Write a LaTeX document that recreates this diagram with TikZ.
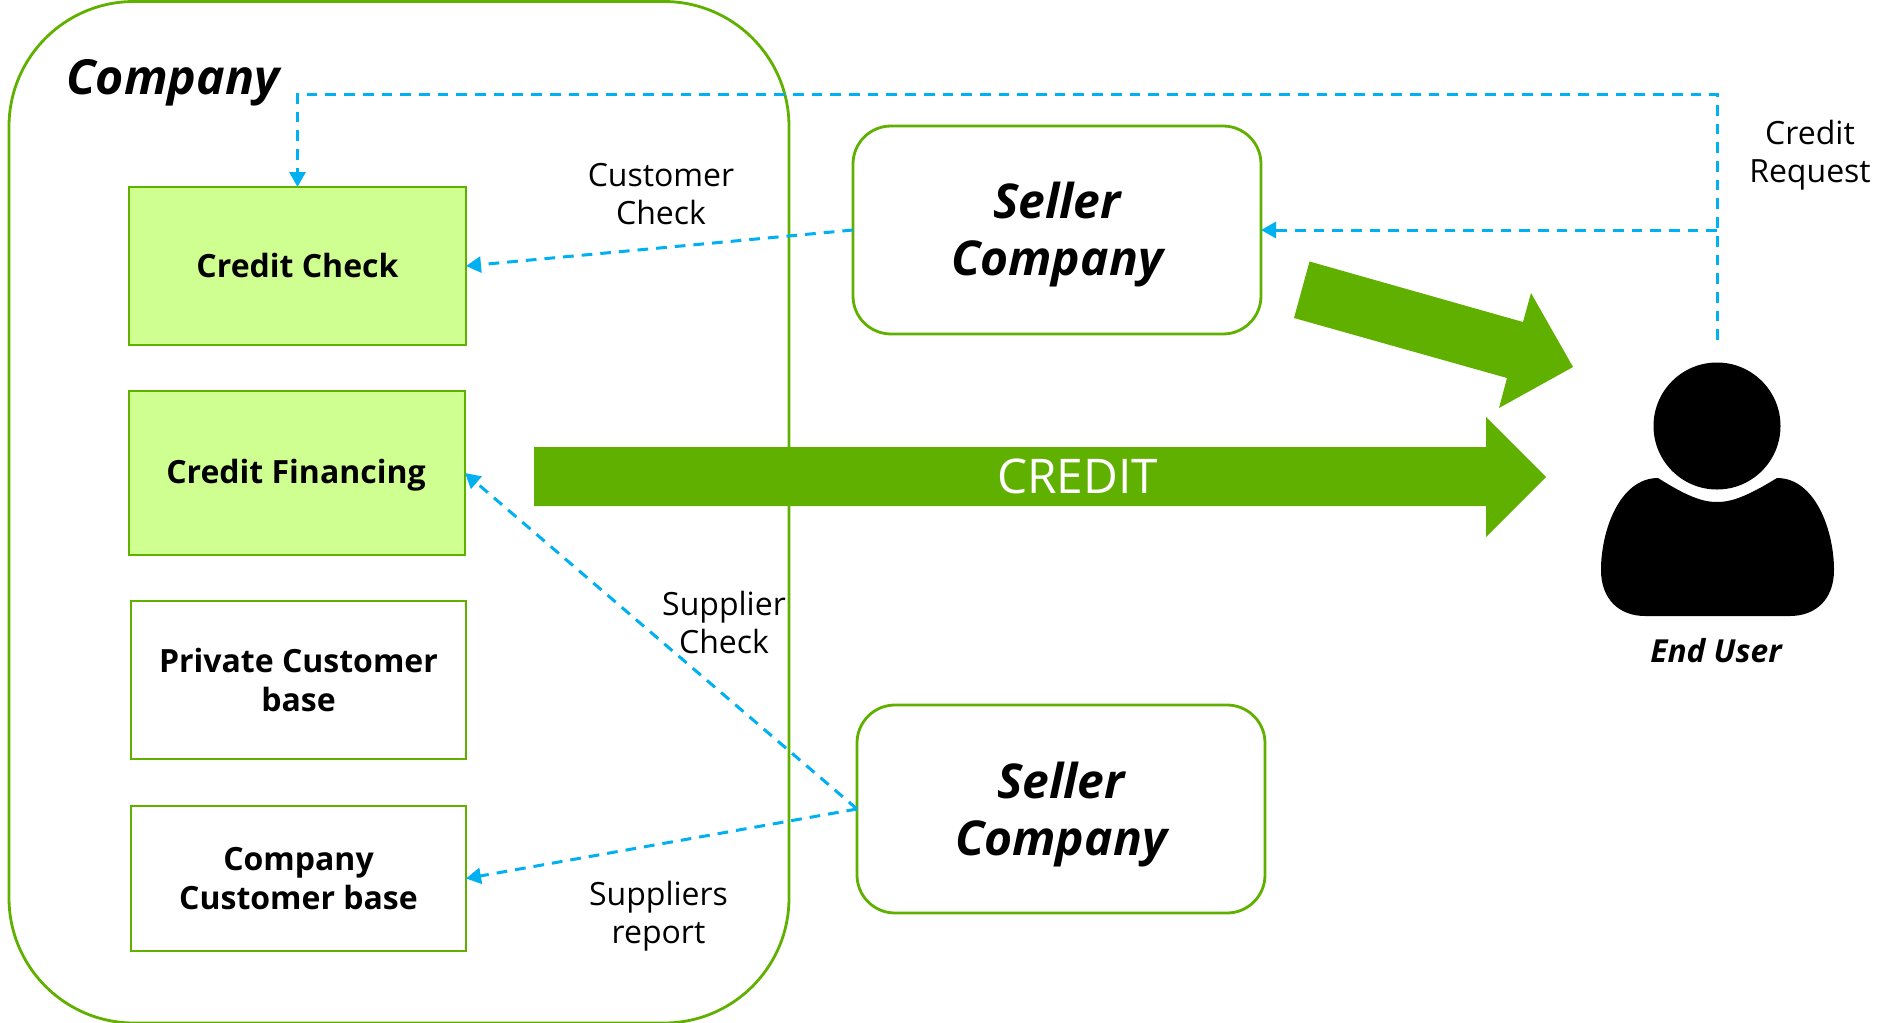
\documentclass[tikz,border=0pt]{standalone}
\usepackage{fontspec}
\setmainfont{Open Sans}
\usetikzlibrary{arrows.meta}
\definecolor{grn}{HTML}{60B000}
\definecolor{lgrn}{HTML}{CEFF90}
\definecolor{cyn}{HTML}{00B0F0}
\tikzset{
  x=1pt,y=-1pt,
  greenline/.style={draw=grn,line width=2.8pt},
  boxnode/.style={greenline,outer sep=0pt,inner sep=0pt,align=center,font=\fontsize{32}{38.5}\selectfont\bfseries},
  litbox/.style={boxnode,fill=lgrn},
  plainbox/.style={boxnode,fill=white},
  boxtext/.style={inner sep=0pt,align=center,font=\fontsize{32}{38.5}\selectfont\bfseries},
  sellerbox/.style={greenline,rounded corners=38pt,fill=white,outer sep=0pt,minimum width=408pt,minimum height=208pt},
  sellertext/.style={inner sep=0pt,align=center,font=\fontsize{48}{57}\selectfont\bfseries\itshape},
  flow/.style={draw=cyn,line width=3pt,dash pattern=on 10.7pt off 8pt,-{Triangle[length=15pt,width=16pt]}},
  lbl/.style={align=center,inner sep=0pt,font=\fontsize{32}{38.5}\selectfont},
  bigarrow/.style={fill=grn,draw=none},
}
\begin{document}
\begin{tikzpicture}
\path[use as bounding box] (0,0) rectangle (1883,1023);
% company container
\node[greenline,rounded corners=125pt,outer sep=0pt,minimum width=780pt,minimum height=1021.5pt] (company) at (399,512.25) {};
\node[inner sep=0pt,font=\fontsize{48.3}{54}\selectfont\bfseries\itshape] (companytitle) at (173,83) {Company};
% inner boxes
\node[litbox,minimum width=337pt,minimum height=158pt] (check) at (297.5,266) {};
\node[boxtext] (checktext) at (297.5,265) {Credit Check};
\node[litbox,minimum width=336pt,minimum height=164pt] (fin) at (297,473) {};
\node[boxtext] (fintext) at (296,475.5) {Credit Financing};
\node[plainbox,minimum width=335pt,minimum height=158pt] (priv) at (298.5,680) {Private Customer\\base};
\node[plainbox,minimum width=335pt,minimum height=145pt] (corp) at (298.5,878.5) {Company\\Customer base};
% sellers
\node[sellerbox] (sellerA) at (1057,230) {};
\node[sellertext] (sellerAtext) at (1057,235) {Seller\\Company};
\node[sellerbox] (sellerB) at (1061,809) {};
\node[sellertext] (sellerBtext) at (1061,814.5) {Seller\\Company};
% big arrows
\path[bigarrow] (534,447) -- (1486,447) -- (1486,417) -- (1546,477) -- (1486,537) -- (1486,506) -- (534,506) -- cycle;
\path[bigarrow] (1309.5,261.5) -- (1523,322) -- (1531,293) -- (1573,367) -- (1499,408) -- (1507,378) -- (1294,318) -- cycle;
\node[inner sep=0pt,text=white,font=\fontsize{47.8}{54}\selectfont] (credit) at (1077.5,476) {CREDIT};
% user icon
\fill (1717,426) circle[radius=63.5];
\fill (1658,478) .. controls (1688,497) and (1703,502) .. (1717,502)
  .. controls (1731,502) and (1746,497) .. (1777,478)
  .. controls (1815,478) and (1834,530) .. (1834,570)
  .. controls (1834,600) and (1815,616) .. (1790,616)
  -- (1645,616)
  .. controls (1620,616) and (1601,600) .. (1601,570)
  .. controls (1601,530) and (1620,478) .. (1658,478) -- cycle;
\coordinate (usertop) at (1717,340);
\coordinate (branch) at (1717,230);
\coordinate (topcorner) at (1717,94);
\node[inner sep=0pt,font=\fontsize{31.7}{36}\selectfont\bfseries\itshape] (enduser) at (1716,651) {End User};
% connectors
\draw[flow] (usertop) -- (topcorner) -| (check.north);
\draw[flow] (branch) -- (sellerA.east);
\draw[flow] (sellerA.west) -- (check.east);
\draw[flow] (sellerB.west) -- (fin.east);
\draw[flow] (sellerB.west) -- (corp.east);
% labels
\node[lbl] (l1) at (661,194) {Customer\\Check};
\node[lbl] (l2) at (1810,155) {Credit\\Request};
\node[lbl] (l3) at (724,622.5) {Supplier\\Check};
\node[lbl] (l4) at (658.5,916) {Suppliers\\report};
\end{tikzpicture}
\end{document}
